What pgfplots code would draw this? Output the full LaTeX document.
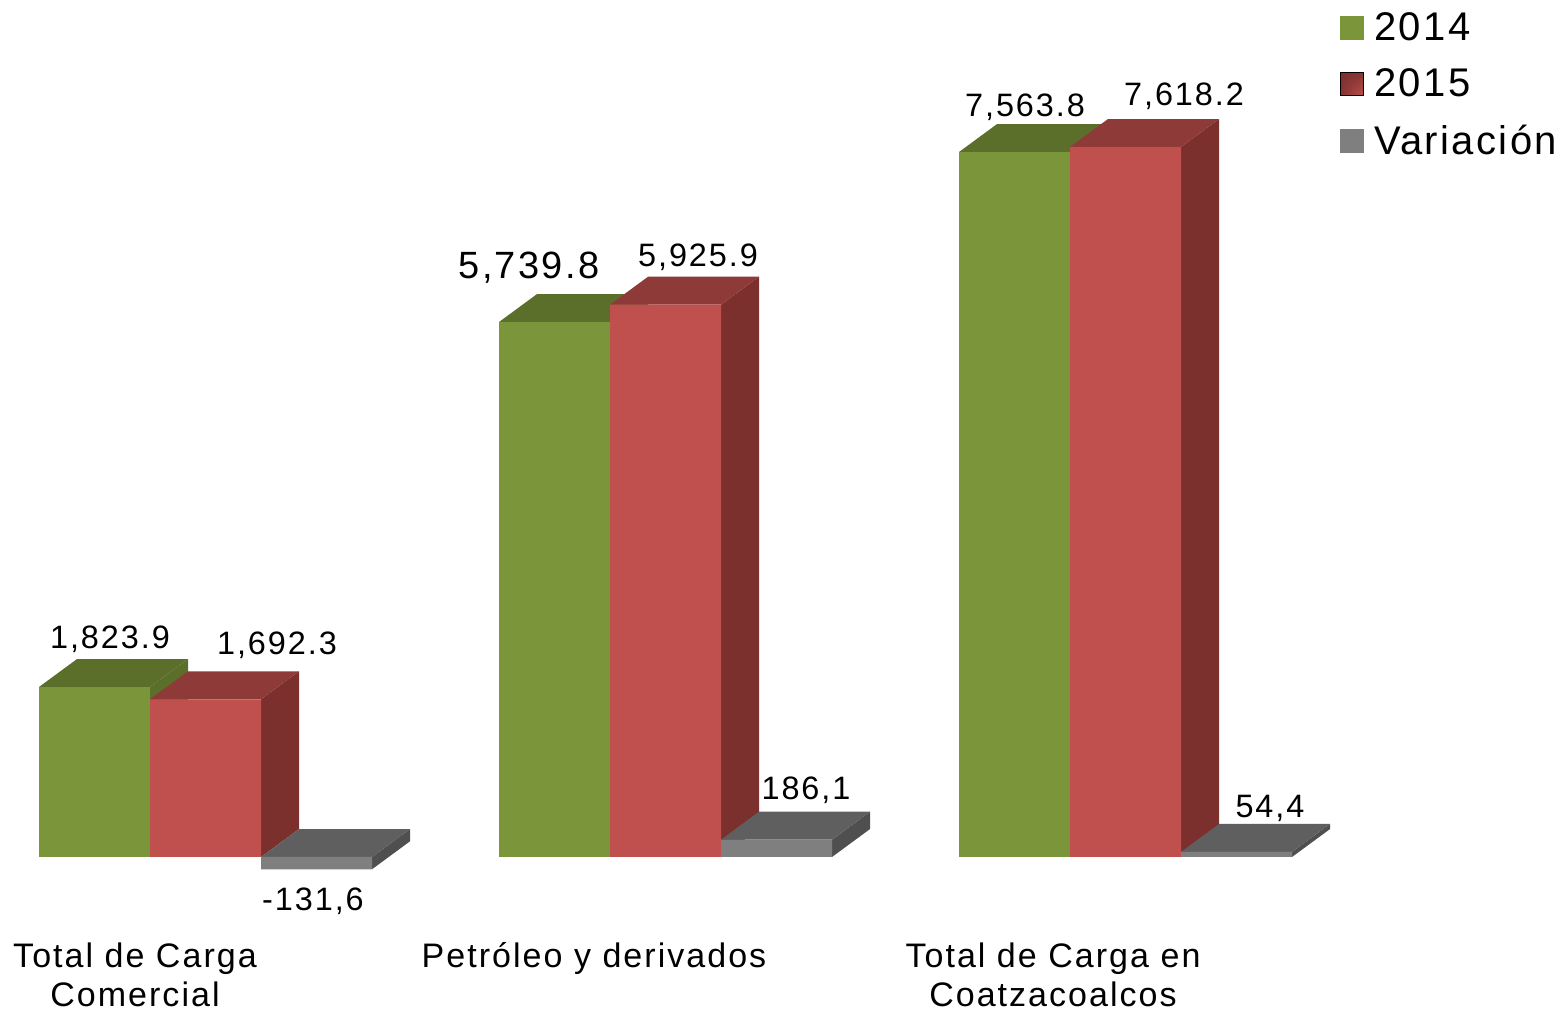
\documentclass[border=0pt]{standalone}
\usepackage{fontspec}
\setmainfont[LetterSpace=6]{Liberation Sans}
\usepackage{pgfplots}
\usetikzlibrary{shadings}
\pgfplotsset{compat=1.18}

\definecolor{gfront}{HTML}{7A953A}
\definecolor{gtop}{HTML}{5B6F2B}
\definecolor{rfront}{HTML}{C0504D}
\definecolor{rtop}{HTML}{8E3A38}
\definecolor{rside}{HTML}{7B302E}
\definecolor{vfront}{HTML}{7F7F7F}
\definecolor{vtop}{HTML}{5F5F5F}
\definecolor{vside}{HTML}{4F4F4F}

\pgfplotsset{
	face/.style={draw=none, fill=#1, forget plot, no markers},
	front/.style={ybar, bar width=111, bar shift=0pt, draw=none, fill=#1, forget plot},
}
\tikzset{
	lab/.style={anchor=base, font=\fontsize{16.2}{16.2}\selectfont, inner sep=0pt},
	cat/.style={anchor=base, font=\fontsize{17}{17}\selectfont, inner sep=0pt},
}

\begin{document}
\begin{tikzpicture}
\begin{axis}[
	scale only axis,
	width=781pt, height=505.5pt,
	xmin=0, xmax=1562,
	ymin=-1652.4, ymax=9195.3,
	hide axis,
	clip=false,
	legend cell align=left,
	legend style={at={(axis cs:1340,9104)}, anchor=north west, draw=none, fill=none,
		font=\fontsize{20}{20}\selectfont, row sep=8.5pt, inner sep=0pt},
]
	\addlegendimage{legend image code/.code={\fill[gfront] (0pt,-5.5pt) rectangle (11.5pt,6pt); \path (14.5pt,0pt);}}
	\addlegendimage{legend image code/.code={\shade[upper left=rside, upper right=rside!85!rfront, lower left=rside!85!rfront, lower right=rfront] (0pt,-5.5pt) rectangle (11.5pt,6pt); \path (14.5pt,0pt);}}
	\addlegendimage{legend image code/.code={\fill[vfront] (0pt,-5.5pt) rectangle (11.5pt,6pt); \path (14.5pt,0pt);}}
	\addlegendentry{2014}
	\addlegendentry{2015}
	\addlegendentry{Variación}

	% 2014
	\addplot[face=gtop] coordinates {(150,0) (188,300) (188,2123.9) (150,1823.9)};
	\addplot[face=gtop] coordinates {(39,1823.9) (77,2123.9) (188,2123.9) (150,1823.9)};
	\addplot[face=gtop] coordinates {(610,0) (648,300) (648,6039.8) (610,5739.8)};
	\addplot[face=gtop] coordinates {(499,5739.8) (537,6039.8) (648,6039.8) (610,5739.8)};
	\addplot[face=gtop] coordinates {(1070,0) (1108,300) (1108,7863.8) (1070,7563.8)};
	\addplot[face=gtop] coordinates {(959,7563.8) (997,7863.8) (1108,7863.8) (1070,7563.8)};
	\addplot[front=gfront] coordinates {(94.5,1823.9) (554.5,5739.8) (1014.5,7563.8)};

	% 2015
	\addplot[face=rside] coordinates {(261,0) (299,300) (299,1992.3) (261,1692.3)};
	\addplot[face=rtop] coordinates {(150,1692.3) (188,1992.3) (299,1992.3) (261,1692.3)};
	\addplot[face=rside] coordinates {(721,0) (759,300) (759,6225.9) (721,5925.9)};
	\addplot[face=rtop] coordinates {(610,5925.9) (648,6225.9) (759,6225.9) (721,5925.9)};
	\addplot[face=rside] coordinates {(1181,0) (1219,300) (1219,7918.2) (1181,7618.2)};
	\addplot[face=rtop] coordinates {(1070,7618.2) (1108,7918.2) (1219,7918.2) (1181,7618.2)};
	\addplot[front=rfront] coordinates {(205.5,1692.3) (665.5,5925.9) (1125.5,7618.2)};

	% Variacion
	\addplot[face=vside] coordinates {(372,-131.6) (410,168.4) (410,300) (372,0)};
	\addplot[face=vtop] coordinates {(261,0) (299,300) (410,300) (372,0)};
	\addplot[face=vside] coordinates {(832,0) (870,300) (870,486.1) (832,186.1)};
	\addplot[face=vtop] coordinates {(721,186.1) (759,486.1) (870,486.1) (832,186.1)};
	\addplot[face=vside] coordinates {(1292,0) (1330,300) (1330,354.4) (1292,54.4)};
	\addplot[face=vtop] coordinates {(1181,54.4) (1219,354.4) (1330,354.4) (1292,54.4)};
	\addplot[front=vfront] coordinates {(316.5,-131.6) (776.5,186.1) (1236.5,54.4)};

	% value labels
	\node[lab] at (axis cs:110,2242) {1,823.9};
	\node[lab] at (axis cs:277,2178) {1,692.3};
	\node[lab] at (axis cs:313,-579) {-131,6};
	\node[lab, font=\fontsize{19}{19}\selectfont] at (axis cs:529,6202) {5,739.8};
	\node[lab] at (axis cs:698,6341) {5,925.9};
	\node[lab] at (axis cs:806,612) {186,1};
	\node[lab] at (axis cs:1025,7940) {7,563.8};
	\node[lab] at (axis cs:1184,8058) {7,618.2};
	\node[lab] at (axis cs:1270,429) {54,4};

	% category labels
	\node[cat] at (axis cs:135,-1190) {Total de Carga};
	\node[cat] at (axis cs:135,-1605) {Comercial};
	\node[cat] at (axis cs:594,-1190) {Petróleo y derivados};
	\node[cat] at (axis cs:1053,-1190) {Total de Carga en};
	\node[cat] at (axis cs:1053,-1605) {Coatzacoalcos};
\end{axis}
\pgfresetboundingbox
\path (0,0) rectangle (781pt,505.5pt);
\end{tikzpicture}
\end{document}
